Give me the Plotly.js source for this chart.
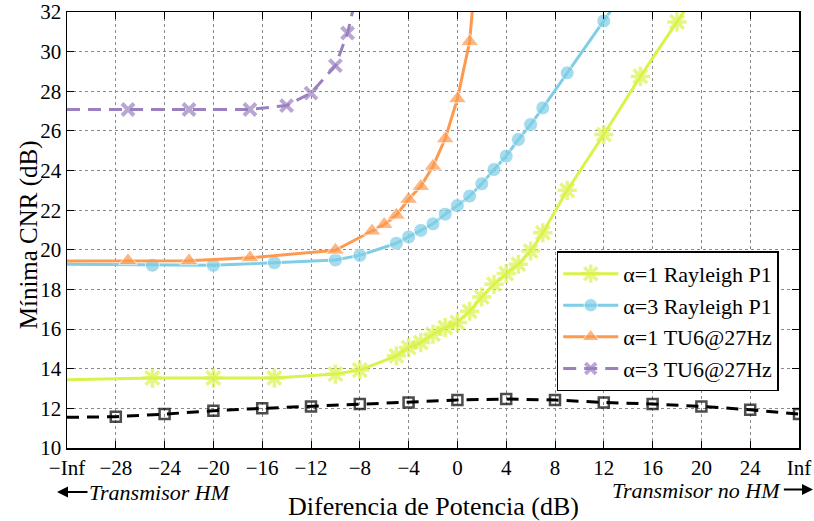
<!DOCTYPE html>
<html>
<head>
<meta charset="utf-8">
<script src="https://cdn.plot.ly/plotly-3.0.1.min.js"></script>
<style>html,body{margin:0;padding:0;background:#fff}#chart{width:814px;height:521px}</style>
</head>
<body>
<div id="chart"></div>
<script>
// x = -32 stands for -Inf, x = 28 stands for Inf
var tickVals = [-32,-28,-24,-20,-16,-12,-8,-4,0,4,8,12,16,20,24,28];
var tickText = ['\u2212Inf','\u221228','\u221224','\u221220','\u221216','\u221212','\u22128','\u22124','0','4','8','12','16','20','24','Inf'];
var yTickVals = [10,12,14,16,18,20,22,24,26,28,30,32];

var refX = [-32,-28,-24,-20,-16,-12,-8,-4,0,4,8,12,16,20,24,28];
var refY = [11.55,11.58,11.71,11.88,12.0,12.1,12.22,12.3,12.42,12.47,12.42,12.3,12.22,12.1,11.93,11.71];

var a1RayX = [-32,-25,-20,-15,-10,-8,-5,-4,-3,-2,-1,0,1,2,3,4,5,6,7,9,12,15,18,21];
var a1RayY = [13.44,13.53,13.53,13.53,13.73,13.93,14.65,15.07,15.32,15.74,16.08,16.33,16.9,17.62,18.26,18.8,19.27,19.94,20.86,23.0,25.82,28.75,31.5,34.3];

var a3RayX = [-32,-25,-20,-15,-10,-8,-5,-4,-3,-2,-1,0,1,2,3,4,5,6,7,9,12,15];
var a3RayY = [19.27,19.22,19.22,19.35,19.49,19.72,20.33,20.65,20.98,21.31,21.8,22.23,22.71,23.33,24.05,24.73,25.57,26.32,27.16,28.93,31.55,34.2];

var a1TuX = [-32,-27,-22,-17,-10,-7,-6,-5,-4,-3,-2,-1,0,1,2];
var a1TuY = [19.44,19.45,19.45,19.6,19.98,20.95,21.28,21.75,22.55,23.2,24.22,25.6,27.62,30.5,37.5];

var a3TuX = [-32,-27,-22,-17,-14,-12,-10,-9,-8];
var a3TuY = [27.08,27.08,27.08,27.08,27.28,27.91,29.29,30.94,33.6];

function sizes(xs, s){ return xs.map(function(v){ return v === -32 ? 0 : s; }); }

var serif = "'Liberation Serif', 'Times New Roman', Times, serif";

var traces = [
  {x: refX, y: refY, mode:'lines+markers', showlegend:false,
   line:{color:'#000', width:3, dash:'12px,8px'},
   marker:{symbol:'square-open', size:sizes(refX,10), color:'#000', line:{color:'#000', width:2.5}}},
  {x: a1RayX, y: a1RayY, mode:'lines+markers', name:'\u03b1=1 Rayleigh P1',
   line:{color:'#dcf24c', width:3},
   marker:{symbol:'asterisk-open', size:sizes(a1RayX,16), color:'#dcf24c', line:{color:'#dcf24c', width:3.5}}},
  {x: a3RayX, y: a3RayY, mode:'lines+markers', name:'\u03b1=3 Rayleigh P1',
   line:{color:'#7ecee6', width:3},
   marker:{symbol:'circle', size:sizes(a3RayX,14), color:'#7ecee6'}},
  {x: a1TuX, y: a1TuY, mode:'lines+markers', name:'\u03b1=1 TU6@27Hz',
   line:{color:'#fd9a50', width:3},
   marker:{symbol:'triangle-up', size:sizes(a1TuX,16), color:'#fd9a50'}},
  {x: a3TuX, y: a3TuY, mode:'lines+markers', name:'\u03b1=3 TU6@27Hz',
   line:{color:'#9b80c0', width:3, dash:'13px,8px'},
   marker:{symbol:'x-thin-open', size:sizes(a3TuX,12), color:'#9b80c0', line:{color:'#9b80c0', width:4}}}
];

var layout = {
  width:814, height:521,
  margin:{l:67, r:15, t:12, b:73},
  paper_bgcolor:'#fff', plot_bgcolor:'#fff',
  font:{family:serif, size:21, color:'#000'},
  showlegend:true,
  legend:{x:0.669, y:0.451, xanchor:'left', yanchor:'top', bgcolor:'#fff',
          bordercolor:'#000', borderwidth:1.5, font:{family:serif, size:22}, tracegroupgap:0,
          itemwidth:55},
  xaxis:{range:[-32,28], tickmode:'array', tickvals:tickVals, ticktext:tickText,
         ticks:'inside', ticklen:7, tickwidth:1, tickcolor:'#000',
         showline:true, linecolor:'#000', linewidth:1.5, mirror:'ticks',
         showgrid:true, gridcolor:'#8a8a8a', griddash:'dot', gridwidth:1,
         zeroline:false, tickfont:{family:serif, size:21}},
  yaxis:{range:[10,32], tickmode:'array', tickvals:yTickVals,
         ticks:'inside', ticklen:7, tickwidth:1, tickcolor:'#000',
         showline:true, linecolor:'#000', linewidth:1.5, mirror:'ticks',
         showgrid:true, gridcolor:'#8a8a8a', griddash:'dot', gridwidth:1,
         zeroline:false, tickfont:{family:serif, size:21}, ticklabeloverflow:'allow'},
  annotations:[
    {xref:'paper', yref:'paper', x:0.5, y:-0.135, xanchor:'center', yanchor:'middle', showarrow:false,
     text:'Diferencia de Potencia (dB)', font:{family:serif, size:26}},
    {xref:'paper', yref:'paper', x:-0.052, y:0.49, xanchor:'center', yanchor:'middle', showarrow:false,
     textangle:-90, text:'M\u00ednima CNR (dB)', font:{family:serif, size:25}},
    {xref:'paper', yref:'paper', x:0.0273, y:-0.103, xanchor:'left', yanchor:'middle', showarrow:false,
     text:'<i>Transmisor HM</i>', font:{family:serif, size:22}},
    {xref:'paper', yref:'paper', x:-0.0137, y:-0.101, showarrow:true, text:'',
     ax:32, ay:0, arrowhead:2, arrowsize:1.1, arrowwidth:2, arrowcolor:'#000'},
    {xref:'paper', yref:'paper', x:0.978, y:-0.097, xanchor:'right', yanchor:'middle', showarrow:false,
     text:'<i>Transmisor no HM</i>', font:{family:serif, size:22}},
    {xref:'paper', yref:'paper', x:1.021, y:-0.095, showarrow:true, text:'',
     ax:-32, ay:0, arrowhead:2, arrowsize:1.1, arrowwidth:2, arrowcolor:'#000'}
  ]
};

Plotly.newPlot('chart', traces, layout, {displayModeBar:false, staticPlot:true});
</script>
</body>
</html>
